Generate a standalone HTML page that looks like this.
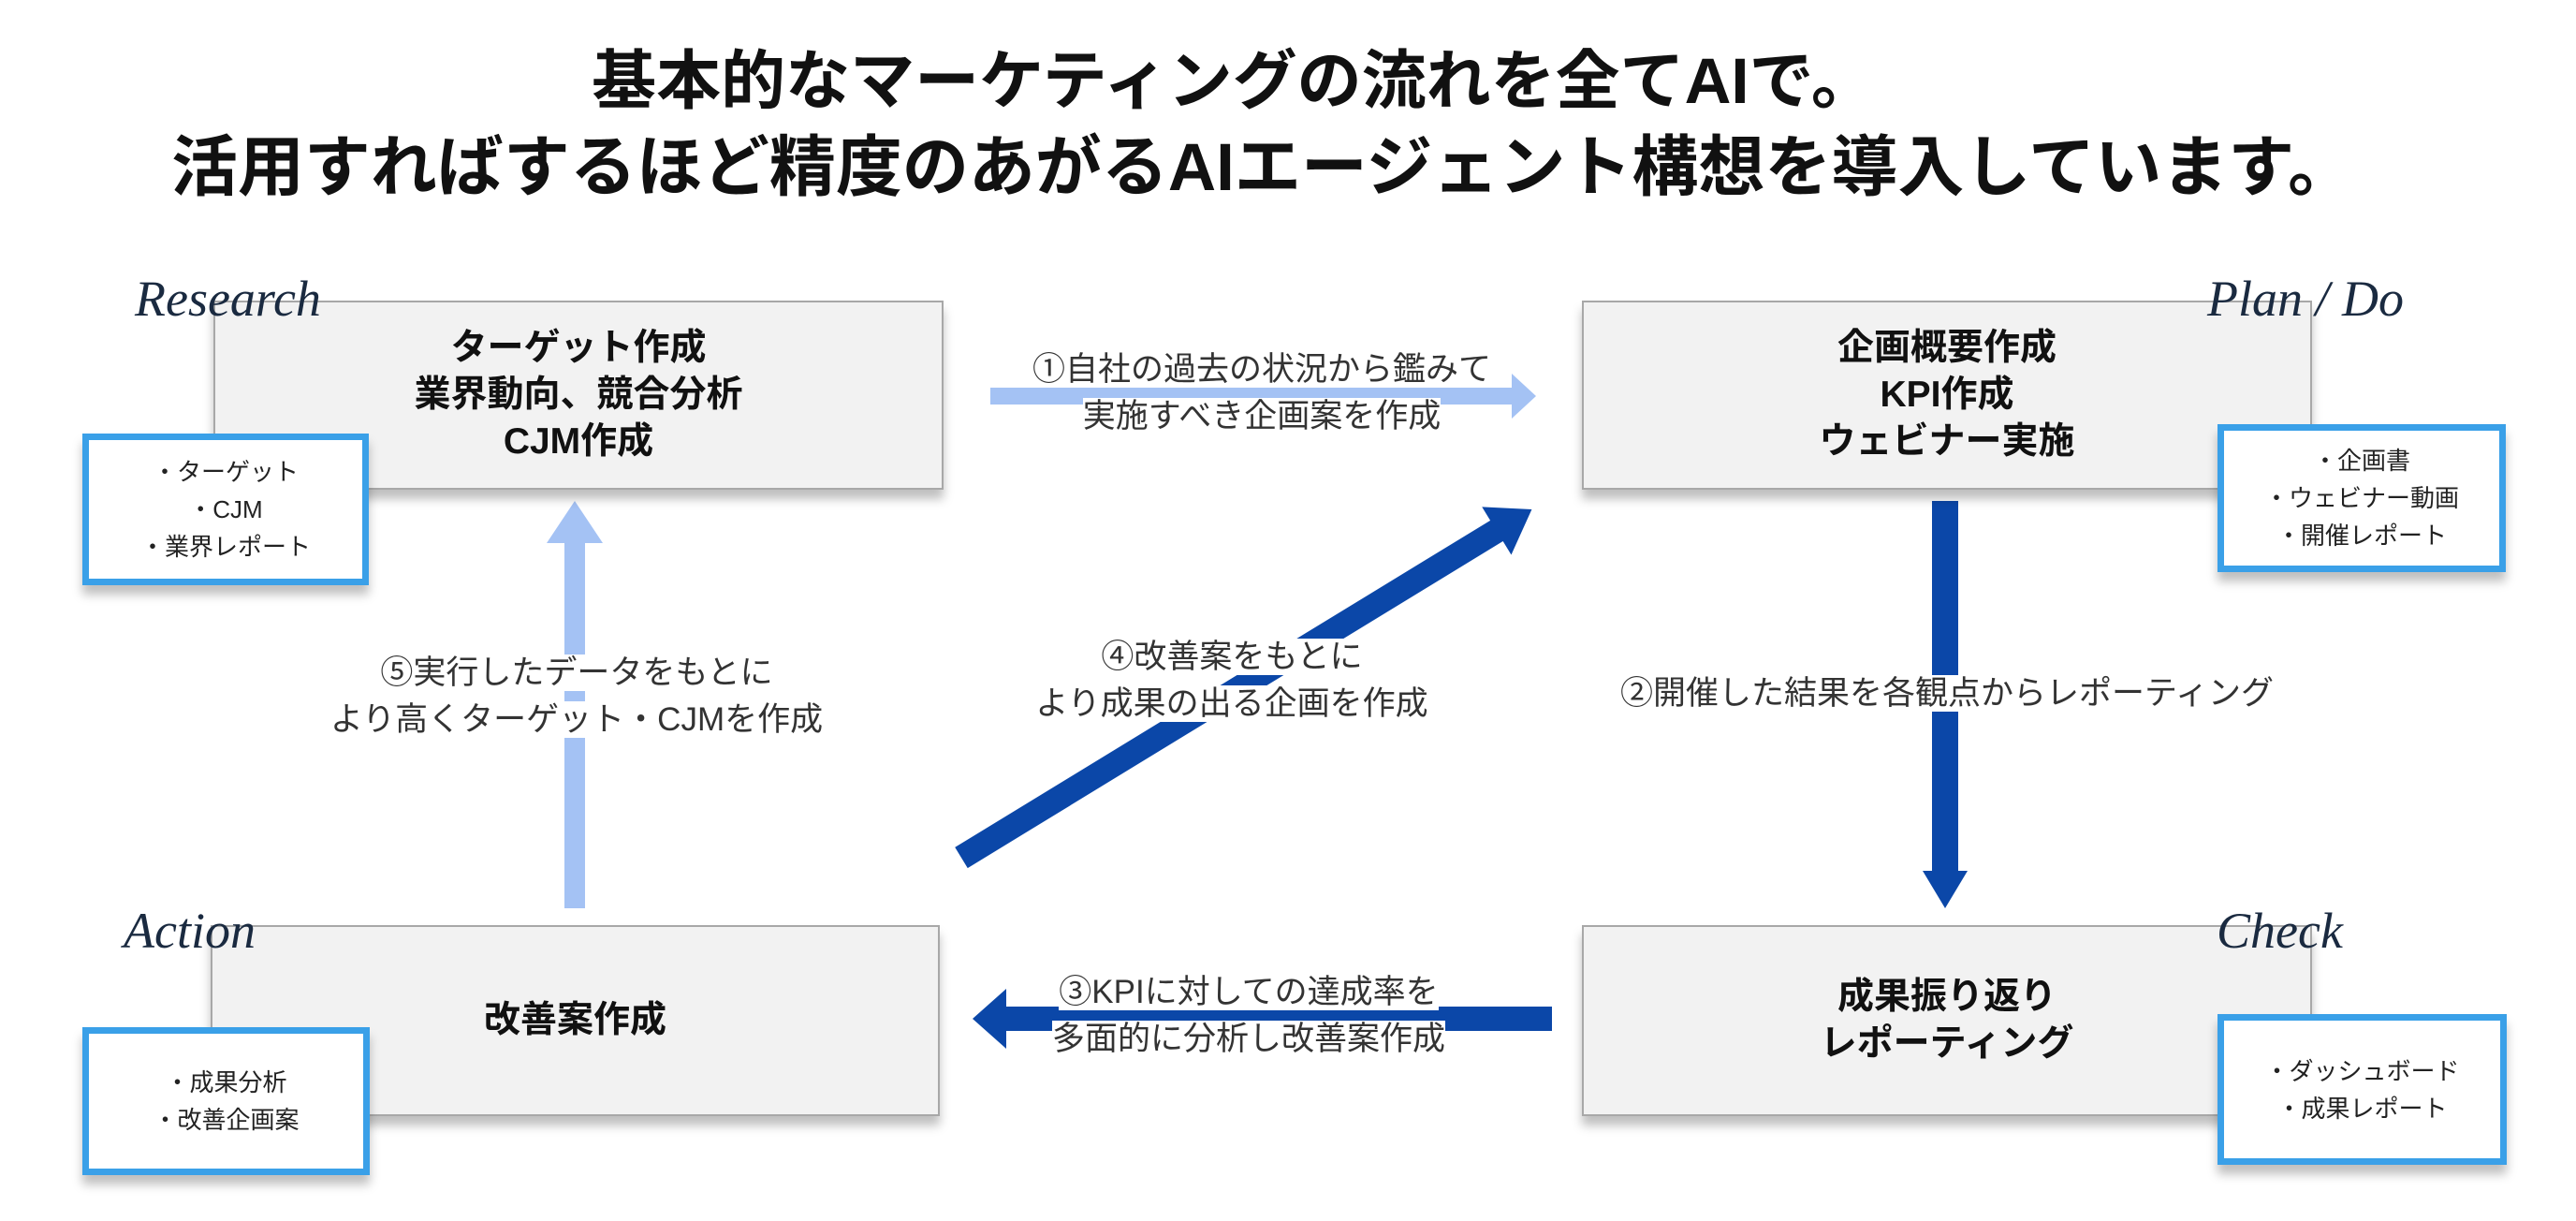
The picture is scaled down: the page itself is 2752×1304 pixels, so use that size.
<!DOCTYPE html>
<html><head><meta charset="utf-8"><style>
body{margin:0;width:2752px;height:1304px;background:#fff;position:relative;overflow:hidden;font-family:"Liberation Sans","Noto Sans CJK JP",sans-serif;}
.t{position:absolute;width:3000px;text-align:center;font-weight:bold;font-size:71px;color:#111;white-space:nowrap;}
.box{position:absolute;background:#f2f2f2;border:2px solid #a8a8a8;box-shadow:0 10px 10px rgba(0,0,0,0.25);display:flex;align-items:center;justify-content:center;text-align:center;font-weight:bold;font-size:39px;line-height:50px;color:#111;}
.sb{position:absolute;background:#fff;border:7px solid #3aa0e8;box-shadow:0 10px 10px rgba(0,0,0,0.25);display:flex;align-items:center;justify-content:center;text-align:center;font-size:26px;line-height:40px;color:#222;box-sizing:border-box;}
.sc{position:absolute;font-family:"Liberation Serif",serif;font-style:italic;font-size:54px;color:#1a2a40;}
.lb{position:absolute;font-size:35px;color:#333;text-align:center;line-height:50px;transform:translateX(-50%);white-space:nowrap;}
.lb span{background:#fff;}
</style></head><body>
<div class="t" style="top:30px;left:-182px;font-size:69px">基本的なマーケティングの流れを全てAIで。</div>
<div class="t" style="top:122px;left:-151px">活用すればするほど精度のあがるAIエージェント構想を導入しています。</div>

<svg style="position:absolute;left:0;top:0" width="2752" height="1304">
<polygon points="1058,414 1615,414 1615,399 1641,423 1615,447 1615,432 1058,432" fill="#a4c2f4"/>
<polygon points="2064,535 2092,535 2092,930 2102,930 2078,970 2054,930 2064,930" fill="#0b47a8"/>
<polygon points="1658,1075 1075,1075 1075,1056 1039,1088 1075,1120 1075,1101 1658,1101" fill="#0b47a8"/>
<polygon points="603,970 625,970 625,580 644,580 614,535 584,580 603,580" fill="#a4c2f4"/>
<g transform="translate(1027,916) rotate(-31.4)">
<polygon points="0,-13 670,-13 670,-30 714,0 670,30 670,13 0,13" fill="#0b47a8"/>
</g>
</svg>

<div class="box" style="left:228px;top:321px;width:776px;height:198px">ターゲット作成<br>業界動向、競合分析<br>CJM作成</div>
<div class="box" style="left:1690px;top:321px;width:776px;height:198px">企画概要作成<br>KPI作成<br>ウェビナー実施</div>
<div class="box" style="left:225px;top:988px;width:775px;height:200px">改善案作成</div>
<div class="box" style="left:1690px;top:988px;width:776px;height:200px">成果振り返り<br>レポーティング</div>

<div class="sb" style="left:88px;top:463px;width:306px;height:162px">・ターゲット<br>・CJM<br>・業界レポート</div>
<div class="sb" style="left:2369px;top:453px;width:308px;height:158px">・企画書<br>・ウェビナー動画<br>・開催レポート</div>
<div class="sb" style="left:88px;top:1097px;width:307px;height:158px">・成果分析<br>・改善企画案</div>
<div class="sb" style="left:2369px;top:1083px;width:309px;height:161px">・ダッシュボード<br>・成果レポート</div>

<div class="sc" style="left:144px;top:288px">Research</div>
<div class="sc" style="left:2358px;top:288px">Plan / Do</div>
<div class="sc" style="left:132px;top:963px">Action</div>
<div class="sc" style="left:2368px;top:963px">Check</div>

<div class="lb" style="left:1348px;top:370px"><span>①自社の過去の状況から鑑みて</span><br><span>実施すべき企画案を作成</span></div>
<div class="lb" style="left:2080px;top:716px"><span>②開催した結果を各観点からレポーティング</span></div>
<div class="lb" style="left:1334px;top:1035px"><span>③KPIに対しての達成率を</span><br><span>多面的に分析し改善案作成</span></div>
<div class="lb" style="left:1316px;top:677px"><span>④改善案をもとに</span><br><span>より成果の出る企画を作成</span></div>
<div class="lb" style="left:616px;top:694px"><span>⑤実行したデータをもとに</span><br><span>より高くターゲット・CJMを作成</span></div>
</body></html>
